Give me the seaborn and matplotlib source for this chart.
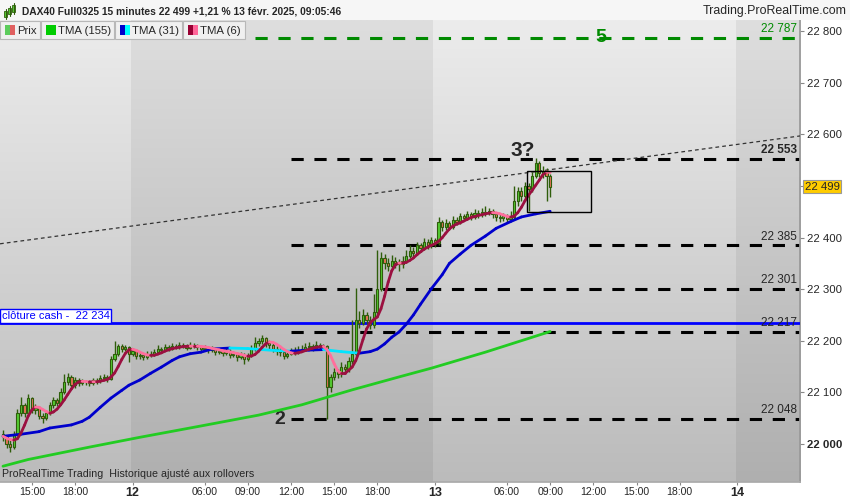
import numpy as np
import pandas as pd
import matplotlib
matplotlib.use("Agg")
import matplotlib.pyplot as plt
import matplotlib.transforms as mtransforms
from matplotlib.patches import Rectangle
from matplotlib.colors import LinearSegmentedColormap
import seaborn as sns

# ---- data: 15 min bars, 11 févr. 13:00 -> 13 févr. 09:00 (bar index 0..152)
close = [
    # 11 févr.
    22015, 22000, 21995, 22020, 22060, 22075, 22060, 22090, 22065, 22070,
    22055, 22050, 22060, 22075, 22085, 22080, 22100, 22120, 22130, 22115,
    22125, 22118, 22122, 22120, 22118, 22124, 22122, 22128, 22130, 22126,
    22165, 22175, 22190, 22185, 22188, 22175,
    # 12 févr.
    22180, 22170, 22172, 22168, 22175, 22172, 22178, 22185, 22182, 22188,
    22185, 22190, 22188, 22192, 22190, 22186, 22192, 22190, 22188, 22185,
    22186, 22182, 22184, 22178, 22180, 22176, 22180, 22172, 22175, 22168,
    22172, 22165, 22170, 22185, 22195, 22200, 22205, 22195, 22192, 22185,
    22180, 22178, 22170, 22175, 22180, 22178, 22182, 22185, 22188, 22190,
    22186, 22192, 22188, 22190, 22110, 22130, 22140, 22135, 22150, 22145,
    22160, 22175, 22240, 22235, 22250, 22240, 22230, 22255, 22300, 22360,
    22350, 22345, 22355, 22350, 22348, 22355, 22365, 22375, 22370, 22385,
    22380, 22392, 22385, 22395,
    # 13 févr.
    22390, 22430, 22420, 22428, 22420, 22435, 22430, 22442, 22438, 22445,
    22440, 22448, 22445, 22450, 22448, 22452, 22445, 22440, 22438, 22442,
    22436, 22440, 22470, 22490, 22480, 22500, 22495, 22520, 22545, 22525,
    22530, 22520, 22499,
]
high = [
    22028, 22018, 22008, 22025, 22068, 22092, 22080, 22096, 22092, 22078,
    22074, 22060, 22066, 22082, 22092, 22090, 22108, 22136, 22137, 22134,
    22130, 22128, 22126, 22125, 22124, 22128, 22127, 22134, 22136, 22133,
    22170, 22200, 22194, 22193, 22192, 22190,
    22186, 22184, 22178, 22176, 22180, 22180, 22184, 22192, 22188, 22194,
    22192, 22196, 22194, 22197, 22195, 22193, 22197, 22195, 22193, 22192,
    22191, 22189, 22190, 22188, 22186, 22184, 22186, 22184, 22180, 22178,
    22178, 22176, 22176, 22192, 22208, 22206, 22212, 22208, 22200, 22198,
    22190, 22186, 22182, 22182, 22186, 22188, 22190, 22192, 22196, 22198,
    22194, 22200, 22196, 22194, 22192, 22136, 22148, 22146, 22158, 22156,
    22168, 22240, 22302, 22258, 22262, 22256, 22248, 22290, 22376, 22372,
    22368, 22360, 22366, 22362, 22358, 22364, 22376, 22385, 22382, 22392,
    22390, 22400, 22398, 22402,
    22400, 22440, 22434, 22436, 22432, 22442, 22440, 22448, 22446, 22452,
    22450, 22456, 22454, 22458, 22462, 22458, 22456, 22450, 22446, 22448,
    22446, 22452, 22500, 22498, 22498, 22508, 22506, 22528, 22554, 22548,
    22538, 22534, 22524,
]
low = [
    22005, 21992, 21985, 21990, 22015, 22055, 22052, 22058, 22060, 22058,
    22048, 22040, 22046, 22056, 22070, 22074, 22078, 22096, 22114, 22110,
    22108, 22112, 22114, 22115, 22113, 22115, 22117, 22118, 22124, 22120,
    22124, 22160, 22170, 22178, 22180, 22158,
    22170, 22164, 22165, 22162, 22165, 22168, 22170, 22175, 22178, 22180,
    22180, 22182, 22184, 22185, 22186, 22182, 22184, 22186, 22183, 22180,
    22181, 22176, 22178, 22172, 22174, 22170, 22172, 22166, 22168, 22160,
    22164, 22155, 22160, 22168, 22180, 22190, 22194, 22188, 22184, 22178,
    22172, 22170, 22164, 22166, 22172, 22172, 22174, 22178, 22180, 22184,
    22180, 22182, 22183, 22184, 22048, 22100, 22124, 22128, 22130, 22138,
    22140, 22155, 22170, 22225, 22230, 22232, 22222, 22225, 22250, 22296,
    22340, 22335, 22340, 22342, 22336, 22342, 22350, 22360, 22362, 22366,
    22372, 22376, 22378, 22380,
    22382, 22386, 22412, 22414, 22414, 22416, 22424, 22426, 22432, 22434,
    22434, 22436, 22438, 22440, 22442, 22444, 22438, 22432, 22430, 22432,
    22430, 22432, 22436, 22462, 22470, 22474, 22452, 22488, 22515, 22518,
    22516, 22470, 22479,
]
first_open = 22020

# TMA(155) and TMA(31) (bar index, price)
tma155_bar = [0, 7, 24, 38, 55, 71, 83, 97, 110, 119, 134, 152]
tma155_val = [21957, 21970, 21994, 22013, 22035, 22056, 22076, 22105, 22130, 22147, 22178, 22218]
tma31_bar = [0, 5, 10, 13, 19, 22, 24, 27, 30, 33, 35, 38, 41, 44, 47, 49, 52, 55, 58,
             63, 68, 72, 76, 80, 85, 89, 94, 99, 102, 104, 106, 108, 110, 112, 114, 116,
             119, 122, 124, 127, 130, 134, 137, 141, 144, 148, 152]
tma31_val = [22015, 22019, 22024, 22031, 22037, 22044, 22052, 22071, 22089, 22104, 22114,
             22124, 22137, 22149, 22162, 22169, 22175, 22178, 22184, 22186, 22185, 22183,
             22181, 22180, 22182, 22183, 22179, 22176, 22179, 22184, 22194, 22207, 22217,
             22232, 22250, 22271, 22301, 22328, 22350, 22368, 22385, 22403, 22418, 22431,
             22440, 22446, 22451]

levels = [22553, 22385, 22301, 22217, 22048]
target_5 = 22787
cash_close = 22234
last_price = 22499
trend_ends = [22388, 22597]
box_lo, box_hi = 22450, 22529

xtick_pos = [8, 20, 36, 56, 68, 80, 92, 104, 120, 140, 152, 164, 176, 188, 204]
xtick_lab = ["15:00", "18:00", "12", "06:00", "09:00", "12:00", "15:00", "18:00",
             "13", "06:00", "09:00", "12:00", "15:00", "18:00", "14"]
day_starts = [36, 120, 204]

df = pd.DataFrame({"bar": np.arange(len(close)), "close": close, "high": high, "low": low})
df["open"] = df["close"].shift(1).fillna(first_open)
df["tma6"] = df["close"].rolling(3, min_periods=1).mean().rolling(4, min_periods=1).mean()

sns.set_theme(style="white")
plt.rcParams["font.family"] = ["Liberation Sans", "DejaVu Sans"]
NARROW = ["Liberation Sans Narrow", "Liberation Sans"]

X_LEFT, X_RIGHT = -0.83, 221.4
Y_BOT, Y_TOP = 21926.4, 22821.7

fig = plt.figure(figsize=(8.5, 5), dpi=100)
fig.patch.set_facecolor("white")
ax = fig.add_axes([0, 18 / 500, 800 / 850, 462 / 500])

# fond dégradé, alternance par jour
light = LinearSegmentedColormap.from_list("l", ["#bbbbbb", "#ececec"])
dark = LinearSegmentedColormap.from_list("d", ["#afafaf", "#dedede"])
grad = np.linspace(0, 1, 256).reshape(-1, 1)
edges = [X_LEFT, day_starts[0] - 0.5, day_starts[1] - 0.5, day_starts[2] - 0.5, X_RIGHT]
for k in range(4):
    ax.imshow(grad, extent=(edges[k], edges[k + 1], Y_BOT, Y_TOP), origin="lower",
              aspect="auto", cmap=light if k % 2 == 0 else dark, zorder=0)

blend = mtransforms.blended_transform_factory(ax.transAxes, ax.transData)

# niveaux
dash = (0, (4, 3.5))
ax.hlines(levels, 80, X_RIGHT, colors="black", lw=2.2, linestyles=dash, zorder=2)
for lv in levels:
    ax.annotate(f"{lv:,}".replace(",", " "), xy=(0.996, lv), xycoords=blend,
                xytext=(0, 2), textcoords="offset points", ha="right", va="bottom",
                fontsize=8.5, fontweight="bold" if lv == levels[0] else "normal", zorder=7)
ax.hlines(target_5, 70, X_RIGHT, colors="#008a00", lw=2.2, linestyles=dash, zorder=2)
ax.annotate(f"{target_5:,}".replace(",", " "), xy=(0.996, target_5), xycoords=blend,
            xytext=(0, 2), textcoords="offset points", ha="right", va="bottom",
            fontsize=8.5, color="#008a00")
ax.text(166, target_5, "5", color="#008a00", fontsize=14, fontweight="bold",
        ha="center", va="center")
ax.text(144.5, levels[0] - 3, "3?", fontsize=15, fontweight="bold", ha="center", va="bottom", zorder=7)
ax.text(77, levels[-1], "2", fontsize=14, fontweight="bold", ha="center", va="center")

# droite de tendance et rectangle
ax.plot([X_LEFT, X_RIGHT], trend_ends, color="#333333", lw=0.9, dashes=(3, 2.5), zorder=3)
ax.add_patch(Rectangle((145.5, box_lo), 17.8, box_hi - box_lo, fill=False, ec="black", lw=1, zorder=6))

# clôture cash
ax.axhline(cash_close, color="#0000ff", lw=2, zorder=3)
ax.annotate(f"clôture cash -  {cash_close:,}".replace(",", " "), xy=(0.002, cash_close), xycoords=blend,
            xytext=(0, 1.5), textcoords="offset points", ha="left", va="bottom", fontsize=8,
            color="#0000ff", zorder=8,
            bbox=dict(boxstyle="square,pad=0.18", fc="white", ec="#0000ff", lw=1))

# bougies
o, c = df["open"].values, df["close"].values
up = c >= o
body = np.where(np.abs(c - o) < 1.5, 1.5, c - o)
ax.vlines(df["bar"], df["low"], df["high"], color="#2f5d0b", lw=1, zorder=4)
ax.bar(df["bar"], body, bottom=o, width=0.62, color=np.where(up, "#55cc33", "#e8735a"),
       edgecolor="#2f5d0b", linewidth=0.8, zorder=4)


def two_tone(xs, ys, up_col, dn_col, lw):
    xs, ys = np.asarray(xs, float), np.asarray(ys, float)
    d = np.diff(ys)
    for k in range(len(d)):
        ax.plot(xs[k:k + 2], ys[k:k + 2], color=up_col if d[k] >= 0 else dn_col,
                lw=lw, solid_capstyle="round", zorder=5)


sns.lineplot(x=tma155_bar, y=tma155_val, color="#22cc22", lw=2, ax=ax, legend=False, zorder=5)
two_tone(tma31_bar, tma31_val, "#0000cc", "#00e5ff", 2)
two_tone(df["bar"], df["tma6"], "#9b1040", "#ff6f9c", 2)

# axes
ax.set_xlim(X_LEFT, X_RIGHT)
ax.set_ylim(Y_BOT, Y_TOP)
ax.set_xlabel("")
ax.set_ylabel("")
ax.yaxis.tick_right()
yt = list(range(22000, 22801, 100))
ax.set_yticks(yt)
ax.set_yticklabels(["" if v == 22500 else f"{v:,}".replace(",", " ") for v in yt])
ax.get_yticklabels()[0].set_fontweight("bold")
ax.tick_params(axis="y", length=3, width=0.8, pad=2, labelsize=8.2, color="#888888", right=True, left=False)
ax.set_xticks(xtick_pos)
ax.set_xticklabels(xtick_lab)
ax.tick_params(axis="x", length=2.5, width=0.8, pad=1, labelsize=7.6, color="#888888", bottom=True)
for lab in ax.get_xticklabels():
    lab.set_family(NARROW)
    if len(lab.get_text()) == 2:
        lab.set_fontweight("bold")
        lab.set_fontsize(9)
for s in ["left", "top"]:
    ax.spines[s].set_visible(False)
ax.spines["right"].set_color("#999999")
ax.spines["bottom"].set_color("#aaaaaa")

ax.text(1.006, last_price, f"{last_price:,}".replace(",", " "), transform=blend, va="center",
        ha="left", fontsize=8.2, clip_on=False, zorder=10,
        bbox=dict(boxstyle="square,pad=0.14", fc="#ffcc00", ec="#999999", lw=0.8))
ax.text(0.003, 0.006, "ProRealTime Trading  Historique ajusté aux rollovers", transform=ax.transAxes,
        fontsize=7.7, ha="left", va="bottom", family=NARROW)

# en-tête et légende (coordonnées pixels)
ov = fig.add_axes([0, 0, 1, 1], zorder=10)
ov.set_xlim(0, 850)
ov.set_ylim(500, 0)
ov.axis("off")
ov.patch.set_alpha(0)
ov.add_patch(Rectangle((0, 0), 850, 20, fc="#f6f6f6", ec="none"))
for cx, y0, y1 in [(6, 11, 17), (10, 8, 14), (14, 5, 12)]:
    ov.plot([cx, cx], [y0 - 2, y1 + 2], color="#2f5d0b", lw=0.8)
    ov.add_patch(Rectangle((cx - 1.5, y0), 3, y1 - y0, fc="#55cc33", ec="#2f5d0b", lw=0.6))
ov.text(22, 11, "DAX40 Full0325 15 minutes 22 499 +1,21 % 13 févr. 2025, 09:05:46",
        fontsize=7.4, fontweight="bold", va="center", ha="left")
ov.text(847, 11, "Trading.ProRealTime.com", fontsize=8.9, va="center", ha="right")
legend_items = [("Prix", 0, 40, ["#5ccc5c", "#e06060"]),
                ("TMA (155)", 41, 114, ["#00cc00"]),
                ("TMA (31)", 115, 182, ["#0000cc", "#00ffff"]),
                ("TMA (6)", 183, 245, ["#990033", "#ff6699"])]
for name, x0, x1, cols in legend_items:
    ov.add_patch(Rectangle((x0, 21), x1 - x0, 18, fc="#f0f0f0", ec="#b8b8b8", lw=0.8))
    w = 10 / len(cols)
    for j, col in enumerate(cols):
        ov.add_patch(Rectangle((x0 + 5 + j * w, 25), w, 10, fc=col, ec="none"))
    ov.text(x0 + 17, 30.5, name, fontsize=8.2, va="center", ha="left")

fig.savefig("out.png", dpi=100)
